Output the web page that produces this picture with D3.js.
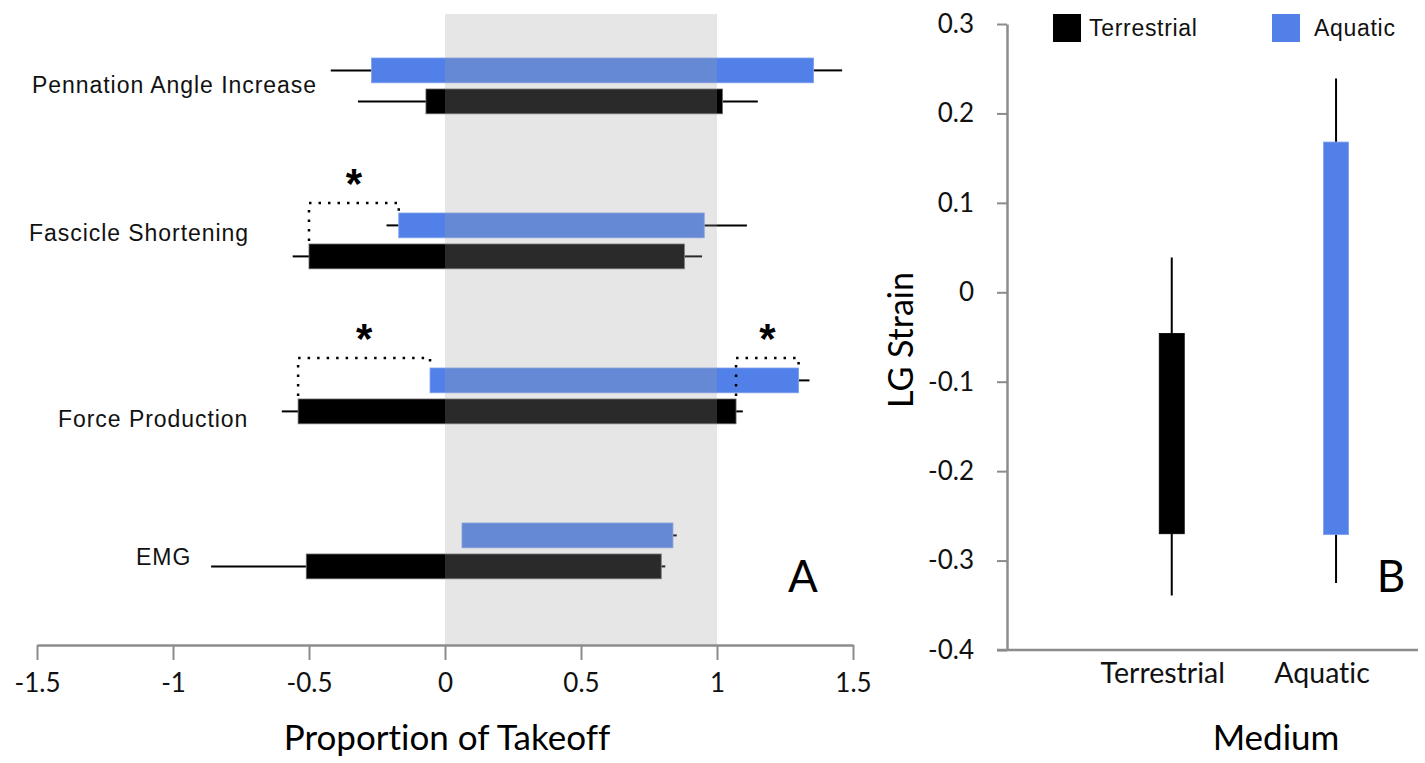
<!DOCTYPE html>
<html>
<head>
<meta charset="utf-8">
<script src="https://cdn.jsdelivr.net/npm/d3@7"></script>
<style>
  html, body { margin: 0; padding: 0; background: #fff; }
  svg { display: block; }
  text { font-variant-ligatures: none; font-feature-settings: "liga" 0; }
</style>
</head>
<body>
<svg id="chart" width="1425" height="763"></svg>
<script>
// ---------- Panel A data (top to bottom) ----------
const categories = ["Pennation Angle Increase", "Fascicle Shortening", "Force Production", "EMG"];
const terrStart   = [-0.07, -0.50, -0.54, -0.51];
const terrEnd     = [1.02, 0.88, 1.07, 0.795];
const terrErrLow  = [-0.32, -0.56, -0.60, -0.86];
const terrErrHigh = [1.15, 0.945, 1.095, 0.81];
const aquaStart   = [-0.27, -0.17, -0.055, 0.0625];
const aquaEnd     = [1.355, 0.953, 1.30, 0.838];
const aquaErrLow  = [-0.42, -0.215, -0.055, 0.0625];
const aquaErrHigh = [1.46, 1.11, 1.34, 0.852];
const xTickValues = [-1.5, -1, -0.5, 0, 0.5, 1, 1.5];
const xTickLabels = ["-1.5", "-1", "-0.5", "0", "0.5", "1", "1.5"];
const shadeRange  = [0, 1];
const sigCategory = ["Fascicle Shortening", "Force Production", "Force Production"];
const sigSide     = ["start", "start", "end"];
const sigLabel    = ["*", "*", "*"];
const xTitle = "Proportion of Takeoff";

// ---------- Panel B data ----------
const media = ["Terrestrial", "Aquatic"];
const strainLow     = [-0.270, -0.271];
const strainHigh    = [-0.046, 0.168];
const strainErrLow  = [-0.339, -0.325];
const strainErrHigh = [0.039, 0.239];
const yTickValues = [0.3, 0.2, 0.1, 0, -0.1, -0.2, -0.3, -0.4];
const yTickLabels = ["0.3", "0.2", "0.1", "0", "-0.1", "-0.2", "-0.3", "-0.4"];
const yTitle = "LG Strain";
const xTitleB = "Medium";

// ---------- styles ----------
const BLUE = "#5181e8";
const BLACK = "#000000";
const AXIS = "#8c8c8c";
const labelFont = "'Liberation Sans', Arial, sans-serif";
const tickFont = "Lato, 'Open Sans', sans-serif";

const svg = d3.select("#chart");

// ================= Panel A =================
const gA = svg.append("g");
const x = d3.scaleLinear().domain([-1.5, 1.5]).range([37, 853]);
const y = d3.scaleBand().domain(categories).range([8.5, 628.5]);
const sub = d3.scaleBand().domain(["Aquatic", "Terrestrial"]).range([-28, 27.8]).paddingInner(0.2);
const axisYA = 645;
const center = c => y(c) + y.bandwidth() / 2;

// category labels (manual placement like the original)
const labelLayout = [[32, 7], [29, 0], [58, 31], [136, 14]];
gA.selectAll("text.cat").data(categories).join("text")
  .attr("class", "cat")
  .attr("x", (d, i) => labelLayout[i][0])
  .attr("y", (d, i) => center(d) + labelLayout[i][1])
  .attr("font-family", labelFont)
  .attr("font-size", 23)
  .attr("letter-spacing", 0.95)
  .attr("fill", "#111")
  .text(d => d);

const series = [
  { key: "Aquatic", color: BLUE, stroke: "#7fa0ee", start: aquaStart, end: aquaEnd, lo: aquaErrLow, hi: aquaErrHigh },
  { key: "Terrestrial", color: BLACK, stroke: "#666", start: terrStart, end: terrEnd, lo: terrErrLow, hi: terrErrHigh }
];

series.forEach(s => {
  const rows = categories.map((c, i) => ({ c, i }));
  gA.selectAll(null).data(rows.filter(r => s.lo[r.i] < s.start[r.i])).join("line")
    .attr("x1", r => x(s.lo[r.i])).attr("x2", r => x(s.start[r.i]))
    .attr("y1", r => center(r.c) + sub(s.key) + sub.bandwidth() / 2)
    .attr("y2", r => center(r.c) + sub(s.key) + sub.bandwidth() / 2)
    .attr("stroke", "#000").attr("stroke-width", 2);
  gA.selectAll(null).data(rows.filter(r => s.hi[r.i] > s.end[r.i])).join("line")
    .attr("x1", r => x(s.end[r.i])).attr("x2", r => x(s.hi[r.i]))
    .attr("y1", r => center(r.c) + sub(s.key) + sub.bandwidth() / 2)
    .attr("y2", r => center(r.c) + sub(s.key) + sub.bandwidth() / 2)
    .attr("stroke", "#000").attr("stroke-width", 2);
  gA.selectAll(null).data(rows).join("rect")
    .attr("x", r => x(s.start[r.i]))
    .attr("width", r => x(s.end[r.i]) - x(s.start[r.i]))
    .attr("y", r => center(r.c) + sub(s.key))
    .attr("height", sub.bandwidth())
    .attr("fill", s.color)
    .attr("stroke", s.stroke).attr("stroke-width", 0.8);
});

// shaded takeoff window (semi-transparent overlay)
gA.append("rect")
  .attr("x", x(shadeRange[0])).attr("width", x(shadeRange[1]) - x(shadeRange[0]))
  .attr("y", 14).attr("height", axisYA - 14)
  .attr("fill", "rgb(160,160,160)").attr("fill-opacity", 0.263);

// significance brackets
sigCategory.forEach((c, k) => {
  const i = categories.indexOf(c);
  const cy = center(c);
  const xa = sigSide[k] === "start" ? x(terrStart[i]) : x(terrEnd[i]);
  const xb = sigSide[k] === "start" ? x(aquaStart[i]) : x(aquaEnd[i]);
  const top = cy - 38;
  const p = d3.path();
  p.moveTo(xa, cy); p.lineTo(xa, top); p.lineTo(xb, top); p.lineTo(xb, cy + sub("Aquatic") - 2);
  gA.append("path").attr("d", p.toString())
    .attr("fill", "none").attr("stroke", "#000").attr("stroke-width", 2.5)
    .attr("stroke-dasharray", "2.5,7");
  gA.append("text")
    .attr("x", (xa + xb) / 2).attr("y", top - 5)
    .attr("text-anchor", "middle")
    .attr("font-family", labelFont).attr("font-weight", "bold")
    .attr("font-size", 42).attr("fill", "#000")
    .text(sigLabel[k]);
});

// x axis
const xAxis = d3.axisBottom(x).tickValues(xTickValues)
  .tickFormat((d, i) => xTickLabels[i]).tickSize(15).tickSizeOuter(0).tickPadding(14);
const gx = gA.append("g").attr("transform", `translate(0,${axisYA})`).call(xAxis);
gx.select(".domain").attr("stroke", AXIS).attr("stroke-width", 2.5);
gx.selectAll(".tick line").attr("stroke", AXIS).attr("stroke-width", 2);
gx.selectAll(".tick text").attr("font-family", tickFont).attr("font-size", 26).attr("fill", "#111");

gA.append("text").attr("x", 447).attr("y", 750)
  .attr("text-anchor", "middle").attr("font-family", tickFont).attr("font-size", 35)
  .attr("fill", "#000").text(xTitle);

gA.append("text").attr("x", 803).attr("y", 592)
  .attr("text-anchor", "middle").attr("font-family", tickFont).attr("font-size", 44)
  .attr("fill", "#000").text("A");

// ================= Panel B =================
const gB = svg.append("g");
const yR = d3.scaleLinear().domain([-0.4, 0.3]).range([650, 24]);
const xR = d3.scaleBand().domain(media).range([1089.6, 1418.2]);
const barW = 25;
const axisXB = 1007;
const colorsB = [BLACK, BLUE];
const strokesB = ["#000", "#7fa0ee"];

gB.selectAll(null).data(media).join("line")
  .attr("x1", d => xR(d) + xR.bandwidth() / 2).attr("x2", d => xR(d) + xR.bandwidth() / 2)
  .attr("y1", (d, i) => yR(strainErrHigh[i])).attr("y2", (d, i) => yR(strainErrLow[i]))
  .attr("stroke", "#000").attr("stroke-width", 2);
gB.selectAll(null).data(media).join("rect")
  .attr("x", d => xR(d) + xR.bandwidth() / 2 - barW / 2)
  .attr("width", barW)
  .attr("y", (d, i) => yR(strainHigh[i]))
  .attr("height", (d, i) => yR(strainLow[i]) - yR(strainHigh[i]))
  .attr("fill", (d, i) => colorsB[i])
  .attr("stroke", (d, i) => strokesB[i]).attr("stroke-width", 0.8);

const yAxis = d3.axisLeft(yR).tickValues(yTickValues)
  .tickFormat((d, i) => yTickLabels[i]).tickSize(10).tickSizeOuter(0).tickPadding(23);
const gy = gB.append("g").attr("transform", `translate(${axisXB},0)`).call(yAxis);
gy.select(".domain").attr("stroke", AXIS).attr("stroke-width", 2.5);
gy.selectAll(".tick line").attr("stroke", AXIS).attr("stroke-width", 2);
gy.selectAll(".tick text").attr("font-family", tickFont).attr("font-size", 26).attr("fill", "#111");

gB.append("line").attr("x1", axisXB - 10).attr("x2", 1418)
  .attr("y1", yR(-0.4)).attr("y2", yR(-0.4))
  .attr("stroke", AXIS).attr("stroke-width", 2.5);
const xAxisB = d3.axisBottom(xR).tickSize(0).tickSizeOuter(0).tickPadding(13);
const gxb = gB.append("g").attr("transform", `translate(0,${yR(-0.4)})`).call(xAxisB);
gxb.select(".domain").remove();
gxb.selectAll(".tick text").attr("font-family", tickFont).attr("font-size", 28.5)
  .attr("fill", "#111").attr("dx", (d, i) => i === 0 ? -9 : -14);

gB.append("text").attr("x", 1276).attr("y", 750)
  .attr("text-anchor", "middle").attr("font-family", tickFont).attr("font-size", 35)
  .attr("fill", "#000").text(xTitleB);

gB.append("text").attr("transform", "translate(913,340) rotate(-90)")
  .attr("text-anchor", "middle").attr("font-family", tickFont).attr("font-size", 34)
  .attr("fill", "#000").text(yTitle);

gB.append("text").attr("x", 1391).attr("y", 592)
  .attr("text-anchor", "middle").attr("font-family", tickFont).attr("font-size", 44)
  .attr("fill", "#000").text("B");

// legend
const legendX = [1053, 1272];
const legend = gB.selectAll("g.leg").data(media).join("g").attr("class", "leg")
  .attr("transform", (d, i) => `translate(${legendX[i]},14)`);
legend.append("rect").attr("width", 28).attr("height", 28)
  .attr("fill", (d, i) => colorsB[i]);
legend.append("text").attr("x", (d, i) => i === 0 ? 36 : 42).attr("y", 22)
  .attr("font-family", labelFont).attr("font-size", 23).attr("letter-spacing", 0.7)
  .attr("fill", "#111")
  .text(d => d);
</script>
</body>
</html>
